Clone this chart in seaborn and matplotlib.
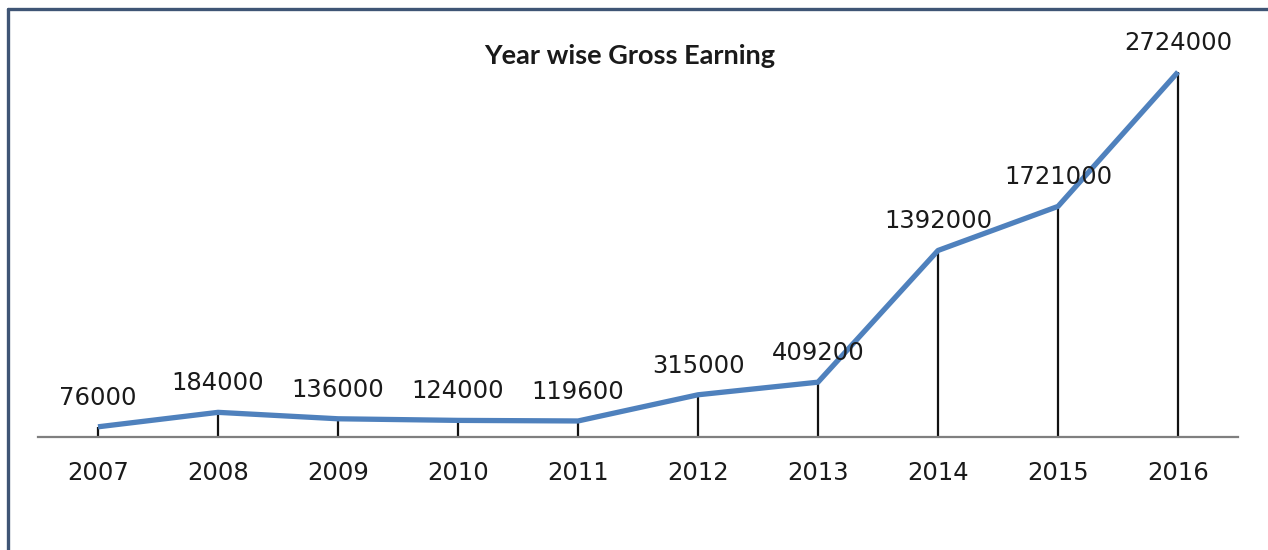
import matplotlib
matplotlib.use("Agg")
import matplotlib.pyplot as plt
from matplotlib.lines import Line2D
import seaborn as sns
import numpy as np

years = ["2007", "2008", "2009", "2010", "2011", "2012", "2013", "2014", "2015", "2016"]
earnings = [76000, 184000, 136000, 124000, 119600, 315000, 409200, 1392000, 1721000, 2724000]
title = "Year wise Gross Earning"

sns.set_theme(style="white")
plt.rcParams['font.family'] = ['DejaVu Sans']

fig = plt.figure(figsize=(12.68, 5.5), dpi=100)
ax = fig.add_axes([38 / 1268, (550 - 437) / 550, 1200 / 1268, 402 / 550])

pos = np.arange(len(years))
ax.vlines(pos, 0, earnings, colors="#111111", linewidth=1.6, zorder=2)
sns.lineplot(x=pos, y=earnings, ax=ax, color="#4F81BD", linewidth=3.8,
             sort=False, zorder=3, solid_capstyle="butt")

for p, v in zip(pos, earnings):
    ax.annotate(str(v), (p, v), xytext=(0, 21), textcoords="offset points",
                ha="center", va="center", fontsize=17.5, color="#1a1a1a")

ax.set_xlim(-0.5, len(years) - 0.5)
ax.set_ylim(0, 3000000)
ax.set_xticks(pos)
ax.set_xticklabels(years, fontsize=17.5, color="#1a1a1a")
ax.set_yticks([])
ax.tick_params(axis="x", length=0, pad=17)
for s in ["top", "left", "right"]:
    ax.spines[s].set_visible(False)
ax.spines["bottom"].set_color("#7f7f7f")
ax.spines["bottom"].set_linewidth(1.6)
ax.set_xlabel("")
ax.set_ylabel("")

fig.text(630 / 1268, 1 - 56 / 550, title, ha="center", va="center",
         fontsize=19.5, fontweight="bold", family=["Lato", "DejaVu Sans"], color="#1a1a1a")

# figure border (left and top)
bx = 7.5 / 1268
by = 1 - 8.5 / 550
fig.add_artist(Line2D([bx, bx], [0, by], transform=fig.transFigure, color="#3f5575", linewidth=2.4))
fig.add_artist(Line2D([bx, 1], [by, by], transform=fig.transFigure, color="#3f5575", linewidth=2.4))

fig.savefig("out.png", dpi=100)
